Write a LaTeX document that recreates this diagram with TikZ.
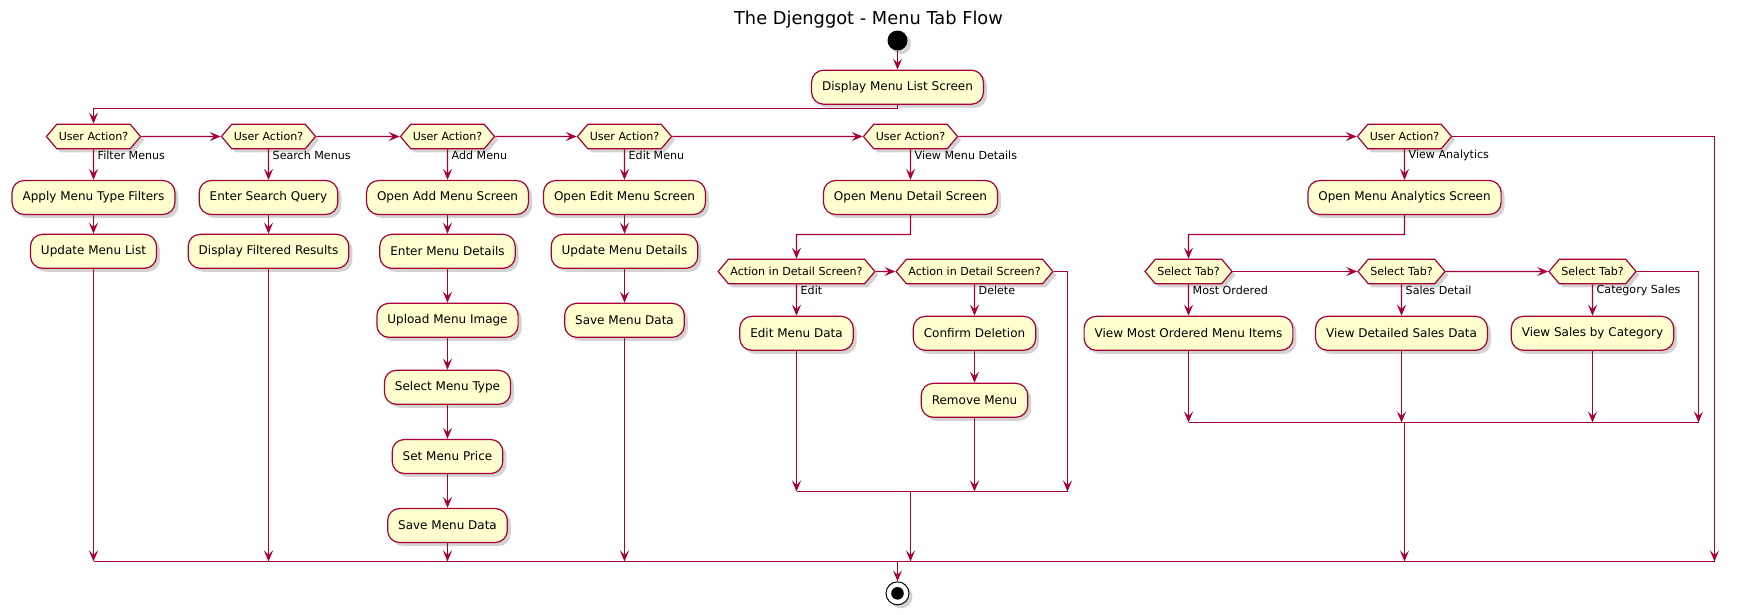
\documentclass[tikz,border=0pt]{standalone}
\usepackage{fontspec}
\setmainfont{DejaVu Sans}
\usetikzlibrary{arrows.meta,shapes.symbols,shadows}

\definecolor{umlred}{HTML}{A80036}
\definecolor{umlfill}{HTML}{FEFECE}

\tikzset{
    act/.style={draw=umlred, fill=umlfill, line width=1.2pt, rounded corners=12pt,
        minimum height=34pt, inner xsep=10.5pt, font=\fontsize{12}{14}\selectfont,
        drop shadow={shadow xshift=3.5pt, shadow yshift=-3.5pt, opacity=0.35}},
    choice/.style={draw=umlred, fill=umlfill, line width=1.2pt, shape=signal,
        signal to=east and west, signal pointer angle=100, minimum height=24.5pt,
        inner xsep=2pt, inner ysep=0pt, font=\fontsize{11.1}{13}\selectfont,
        drop shadow={shadow xshift=3.5pt, shadow yshift=-3.5pt, opacity=0.35}},
    flow/.style={umlred, line width=1.2pt, -{Stealth[length=11pt,width=9pt,inset=4.5pt]}},
    wire/.style={umlred, line width=1.2pt},
    lbl/.style={anchor=west, inner sep=0pt, font=\fontsize{11.1}{13}\selectfont}
}

\begin{document}
\begin{tikzpicture}[x=1pt, y=-1pt]
    \useasboundingbox (0,0) rectangle (1738,614);
    % Title, start and first screen
    \node (title) [font=\fontsize{17.8}{20}\selectfont] at (868.5,20) {The Djenggot - Menu Tab Flow};
    \node (start) [circle, fill=black, minimum size=20pt, inner sep=0pt,
        drop shadow={shadow xshift=3.5pt, shadow yshift=-3.5pt, opacity=0.35}] at (897.5,40.5) {};
    \node (disp) [act] at (897.5,87.2) {Display Menu List Screen};

    % Draw decisions
    \node (ua1) [choice] at (93.5,136.5) {User Action?};
    \node (ua2) [choice] at (268.5,136.5) {User Action?};
    \node (ua3) [choice] at (447.5,136.5) {User Action?};
    \node (ua4) [choice] at (624.5,136.5) {User Action?};
    \node (ua5) [choice] at (910.5,136.5) {User Action?};
    \node (ua6) [choice] at (1404.5,136.5) {User Action?};
    \node (l1) [lbl] at (97.5,155.5) {Filter Menus};
    \node (l2) [lbl] at (272.5,155.5) {Search Menus};
    \node (l3) [lbl] at (451.5,155.5) {Add Menu};
    \node (l4) [lbl] at (628.5,155.5) {Edit Menu};
    \node (l5) [lbl] at (914.5,155.5) {View Menu Details};
    \node (l6) [lbl] at (1408.5,155.5) {View Analytics};

    % Draw activities
    \node (filt) [act] at (93.5,197.5) {Apply Menu Type Filters};
    \node (upd) [act] at (93.5,251.3) {Update Menu List};
    \node (query) [act] at (268.5,197.5) {Enter Search Query};
    \node (res) [act] at (268.5,251.3) {Display Filtered Results};
    \node (addscr) [act] at (447.5,197.5) {Open Add Menu Screen};
    \node (adddet) [act] at (447.5,251.3) {Enter Menu Details};
    \node (img) [act] at (447.5,320.3) {Upload Menu Image};
    \node (mtype) [act] at (447.5,387.3) {Select Menu Type};
    \node (price) [act] at (447.5,456.5) {Set Menu Price};
    \node (addsave) [act] at (447.5,525.5) {Save Menu Data};
    \node (editscr) [act] at (624.5,197.5) {Open Edit Menu Screen};
    \node (editdet) [act] at (624.5,251.3) {Update Menu Details};
    \node (editsave) [act] at (624.5,320.3) {Save Menu Data};
    \node (detscr) [act] at (910.5,197.5) {Open Menu Detail Screen};
    \node (anascr) [act] at (1404.5,197.5) {Open Menu Analytics Screen};

    % Detail screen branch
    \node (ad1) [choice] at (796.5,271.5) {Action in Detail Screen?};
    \node (ad2) [choice] at (974.5,271.5) {Action in Detail Screen?};
    \node (l7) [lbl] at (800.5,290) {Edit};
    \node (l8) [lbl] at (978.5,290) {Delete};
    \node (editdata) [act] at (796.5,333.3) {Edit Menu Data};
    \node (confirm) [act] at (974.5,333.3) {Confirm Deletion};
    \node (remove) [act] at (974.5,400.3) {Remove Menu};

    % Analytics branch
    \node (st1) [choice] at (1188.5,271.5) {Select Tab?};
    \node (st2) [choice] at (1401.5,271.5) {Select Tab?};
    \node (st3) [choice] at (1592.5,271.5) {Select Tab?};
    \node (l9) [lbl] at (1192.5,290) {Most Ordered};
    \node (l10) [lbl] at (1405.5,290) {Sales Detail};
    \node (l11) [lbl] at (1596.5,290) {Category Sales};
    \node (most) [act] at (1188.5,333.3) {View Most Ordered Menu Items};
    \node (sales) [act] at (1401.5,333.3) {View Detailed Sales Data};
    \node (cat) [act] at (1592.5,333.3) {View Sales by Category};

    % Stop
    \node (stop) [circle, draw=black, fill=white, line width=1pt, minimum size=23pt, inner sep=0pt,
        drop shadow={shadow xshift=3.5pt, shadow yshift=-3.5pt, opacity=0.35}] at (897.5,593.3) {};
    \fill[black] (stop.center) circle (6.3pt);

    % Merge points
    \coordinate (split) at (897.5,108.5);
    \coordinate (dsplit) at (796.5,234.5);
    \coordinate (asplit) at (1188.5,234.5);
    \coordinate (dmL) at (796.5,491.5);
    \coordinate (dmR) at (1067.5,491.5);
    \coordinate (amL) at (1188.5,422.5);
    \coordinate (amR) at (1698.5,422.5);
    \coordinate (endL) at (93.5,561.5);
    \coordinate (endR) at (1714.5,561.5);

    % Draw lines
    \draw [flow] (start) -- (disp);
    \draw [flow] (disp) -- (split) -| (ua1);
    \draw [flow] (ua1) -- (ua2);
    \draw [flow] (ua2) -- (ua3);
    \draw [flow] (ua3) -- (ua4);
    \draw [flow] (ua4) -- (ua5);
    \draw [flow] (ua5) -- (ua6);
    \draw [flow] (ua1) -- (filt);
    \draw [flow] (filt) -- (upd);
    \draw [flow] (ua2) -- (query);
    \draw [flow] (query) -- (res);
    \draw [flow] (ua3) -- (addscr);
    \draw [flow] (addscr) -- (adddet);
    \draw [flow] (adddet) -- (img);
    \draw [flow] (img) -- (mtype);
    \draw [flow] (mtype) -- (price);
    \draw [flow] (price) -- (addsave);
    \draw [flow] (ua4) -- (editscr);
    \draw [flow] (editscr) -- (editdet);
    \draw [flow] (editdet) -- (editsave);
    \draw [flow] (ua5) -- (detscr);
    \draw [flow] (ua6) -- (anascr);

    % Detail screen lines
    \draw [flow] (detscr) |- (dsplit) -- (ad1);
    \draw [flow] (ad1) -- (ad2);
    \draw [flow] (ad1) -- (editdata);
    \draw [flow] (ad2) -- (confirm);
    \draw [flow] (confirm) -- (remove);
    \draw [wire] (dmL) -- (dmR);
    \draw [flow] (editdata) -- (editdata |- dmL);
    \draw [flow] (remove) -- (remove |- dmL);
    \draw [flow] (ad2) -| (dmR);

    % Analytics lines
    \draw [flow] (anascr) |- (asplit) -- (st1);
    \draw [flow] (st1) -- (st2);
    \draw [flow] (st2) -- (st3);
    \draw [flow] (st1) -- (most);
    \draw [flow] (st2) -- (sales);
    \draw [flow] (st3) -- (cat);
    \draw [wire] (amL) -- (amR);
    \draw [flow] (most) -- (most |- amL);
    \draw [flow] (sales) -- (sales |- amL);
    \draw [flow] (cat) -- (cat |- amL);
    \draw [flow] (st3) -| (amR);

    % Final merge
    \draw [wire] (endL) -- (endR);
    \draw [flow] (upd) -- (upd |- endL);
    \draw [flow] (res) -- (res |- endL);
    \draw [flow] (addsave) -- (addsave |- endL);
    \draw [flow] (editsave) -- (editsave |- endL);
    \draw [flow] (ua5 |- dmL) -- (ua5 |- endL);
    \draw [flow] (ua6 |- amL) -- (ua6 |- endL);
    \draw [flow] (ua6) -| (endR);
    \draw [flow] (stop |- endL) -- (stop);
\end{tikzpicture}
\end{document}
